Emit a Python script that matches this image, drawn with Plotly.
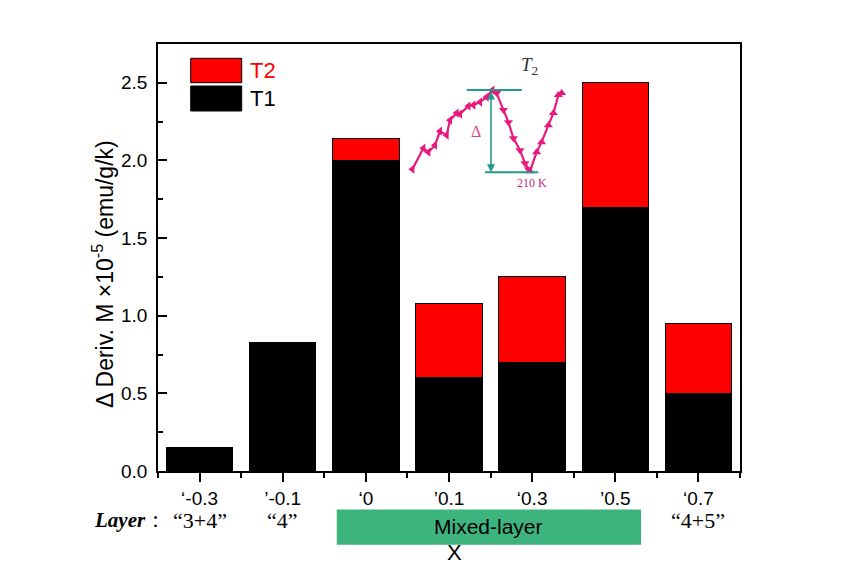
import plotly.graph_objects as go

# Sample composition x and the layer type each one belongs to
compositions = ["‘-0.3", "’-0.1", "‘0", "’0.1", "‘0.3", "’0.5", "‘0.7"]
t1_values = [0.15, 0.83, 2.00, 0.60, 0.70, 1.70, 0.50]
t2_values = [0.00, 0.00, 0.14, 0.48, 0.55, 0.80, 0.45]
layer_labels = ["“3+4”", "“4”", None, None, None, None, "“4+5”"]
mixed_span = (1.65, 5.31)

# Inset: derivative curve around the T2 transition (temperature in K, arbitrary units)
inset_temp = [151.2, 156.7, 159.2, 162.5, 165.0, 168.3, 170.0, 173.3, 175.0, 179.2,
              181.7, 185.0, 188.3, 191.2, 193.3, 196.7, 199.2, 201.7, 205.0, 207.5,
              209.2, 210.0, 213.3, 215.8, 219.2, 221.7, 224.2, 225.8]
inset_signal = [0.03, 0.24, 0.20, 0.27, 0.41, 0.37, 0.52, 0.59, 0.58, 0.66,
                0.67, 0.70, 0.75, 0.82, 0.79, 0.62, 0.50, 0.34, 0.22, 0.09,
                0.03, 0.01, 0.20, 0.30, 0.47, 0.59, 0.77, 0.79]
peak_temp, peak_signal = 191.2, 0.82
dip_temp, dip_signal = 210.0, 0.01

RED = "#ff0000"
BLACK = "#000000"
GREEN = "#3db37e"
TEAL = "#23998f"
MAGENTA = "#e8197c"
SANS = "Liberation Sans, Arial, sans-serif"
SERIF = "Liberation Serif, Times New Roman, serif"

xpos = list(range(len(compositions)))

fig = go.Figure()
fig.add_trace(go.Bar(x=xpos, y=t1_values, name="T1", marker=dict(color=BLACK, line=dict(color=BLACK, width=1)),
                     width=0.8))
fig.add_trace(go.Bar(x=xpos, y=t2_values, name="T2", marker=dict(color=RED, line=dict(color=BLACK, width=1)),
                     width=0.8))

# Inset curve with direction markers
symbols = []
for t in inset_temp:
    if t <= peak_temp:
        symbols.append("triangle-left")
    elif t < dip_temp:
        symbols.append("triangle-down")
    else:
        symbols.append("triangle-up")
fig.add_trace(go.Scatter(x=inset_temp, y=inset_signal, mode="lines+markers", xaxis="x2", yaxis="y2",
                         line=dict(color=MAGENTA, width=2.2),
                         marker=dict(symbol=symbols, size=8, color=MAGENTA), showlegend=False))

fig.update_layout(
    barmode="stack",
    width=845, height=567,
    margin=dict(l=158, r=105, t=44, b=96),
    paper_bgcolor="white", plot_bgcolor="white",
    showlegend=False,
    bargap=0.2,
    font=dict(family=SANS, color="black", size=19),
    xaxis=dict(range=[-0.5, 6.5], tickmode="array", tickvals=xpos, ticktext=compositions,
               ticks="outside", ticklen=9, tickwidth=1.8, tickcolor="black",
               showline=True, linecolor="black", linewidth=1.8, mirror=True,
               showgrid=False, zeroline=False, tickfont=dict(size=19, family=SANS),
               minor=dict(tickmode="linear", tick0=-0.5, dtick=1, ticks="outside", ticklen=5,
                          tickwidth=1.8, tickcolor="black", showgrid=False)),
    yaxis=dict(range=[0, 2.75], dtick=0.5, tickformat=".1f",
               ticks="inside", ticklen=9, tickwidth=1.8, tickcolor="black",
               showline=True, linecolor="black", linewidth=1.8, mirror=True, ticklabelstandoff=5,
               showgrid=False, zeroline=False, tickfont=dict(size=19, family=SANS),
               minor=dict(dtick=0.25, ticks="inside", ticklen=5, tickwidth=1.8,
                          tickcolor="black", showgrid=False)),
    xaxis2=dict(domain=[0.4158, 0.7079], range=[145, 230], anchor="y2", visible=False),
    yaxis2=dict(domain=[0.646, 0.974], range=[-0.23, 1.17], anchor="x2", visible=False),
)

shapes = []
annotations = []

# Legend drawn as filled swatches
legend_items = [("T2", RED, 0.9665, 0.9094), ("T1", BLACK, 0.9016, 0.8431)]
for label, color, y_top, y_bot in legend_items:
    shapes.append(dict(type="rect", xref="paper", yref="paper", x0=0.0562, x1=0.1438,
                       y0=y_bot, y1=y_top, fillcolor=color, line=dict(color=BLACK, width=1)))
    annotations.append(dict(xref="paper", yref="paper", x=0.1546, y=(y_top + y_bot) / 2,
                            text=label, showarrow=False, xanchor="left", yanchor="middle",
                            font=dict(size=22, family=SANS, color=color)))

# Inset reference lines and labels
shapes.append(dict(type="line", xref="x2", yref="y2", x0=178.4, x1=205.9, y0=peak_signal, y1=peak_signal,
                   line=dict(color=TEAL, width=2)))
shapes.append(dict(type="line", xref="x2", yref="y2", x0=187.5, x1=214.2, y0=0.0, y1=0.0,
                   line=dict(color=TEAL, width=2)))
annotations.append(dict(xref="x2", yref="y2", axref="x2", ayref="y2", x=190.5, y=0.0, ax=190.5, ay=peak_signal,
                        text="", showarrow=True, arrowhead=2, arrowside="end+start", arrowsize=1,
                        arrowwidth=1.6, arrowcolor=TEAL))
annotations.append(dict(xref="x2", yref="y2", x=183, y=0.41, text="Δ", showarrow=False,
                        font=dict(size=16, family=SERIF, color="#e0408a")))
annotations.append(dict(xref="x2", yref="y2", x=211, y=-0.11, text="210 K", showarrow=False,
                        font=dict(size=12, family=SERIF, color="#c8287a")))
annotations.append(dict(xref="x2", yref="y2", x=210, y=1.06, text="<i>T</i><sub>2</sub>", showarrow=False,
                        font=dict(size=19, family=SERIF, color="#333333")))

# Layer row below the composition labels
layer_y = -0.1148
annotations.append(dict(xref="paper", yref="paper", x=-0.114, y=layer_y, text="<b><i>Layer</i></b>：",
                        showarrow=False, xanchor="left", yanchor="middle",
                        font=dict(size=21, family=SERIF, color="black")))
for xi, lab in zip(xpos, layer_labels):
    if lab:
        annotations.append(dict(xref="x", yref="paper", x=xi, y=layer_y, text=lab, showarrow=False,
                                yanchor="middle", font=dict(size=22, family=SERIF, color="black")))
shapes.append(dict(type="rect", xref="x", yref="paper", x0=mixed_span[0], x1=mixed_span[1],
                   y0=-0.1726, y1=-0.090, fillcolor=GREEN, line=dict(width=0)))
annotations.append(dict(xref="x", yref="paper", x=sum(mixed_span) / 2, y=-0.131, text="Mixed-layer",
                        showarrow=False, yanchor="middle", font=dict(size=21, family=SANS, color="black")))

# Axis titles
annotations.append(dict(xref="paper", yref="paper", x=0.510, y=-0.192, text="X", showarrow=False,
                        yanchor="middle", font=dict(size=22, family=SANS, color="black")))
annotations.append(dict(xref="paper", yref="paper", x=-0.0955, y=0.4625, textangle=-90,
                        text="Δ Deriv. M ×10<sup>-5</sup> (emu/g/k)", showarrow=False,
                        xanchor="center", yanchor="middle", font=dict(size=23, family=SANS, color="black")))

fig.update_layout(shapes=shapes, annotations=annotations)
fig.write_html("out.html")
